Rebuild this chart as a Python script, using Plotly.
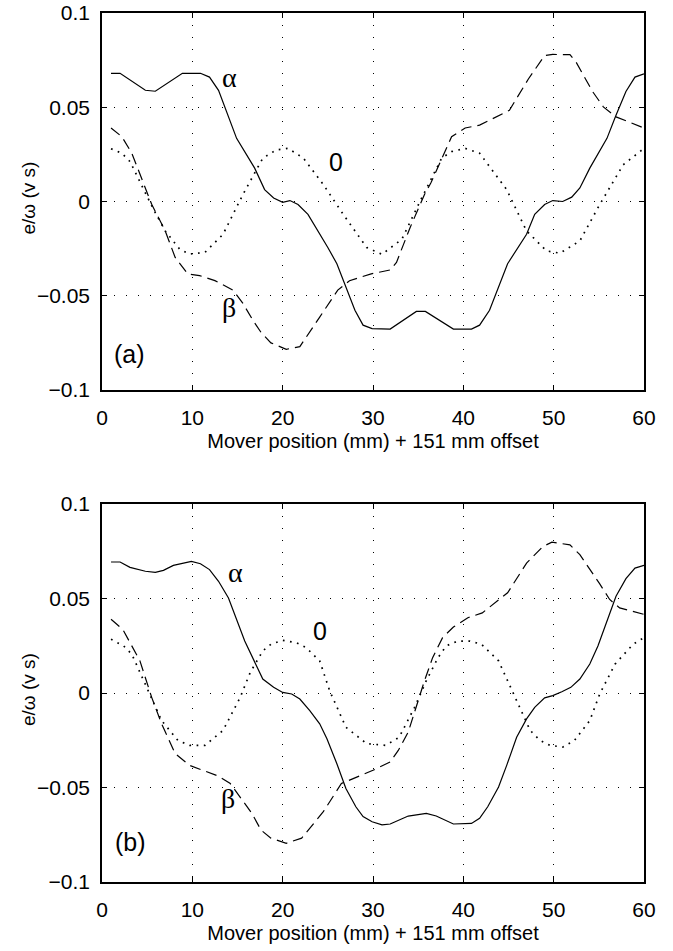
import plotly.graph_objects as go

# ---------------- data: panel (a) ----------------
a_alpha_x = [1, 2, 4.8, 5.9, 8.9, 10.9, 11.9, 12.9, 14.9, 16.9, 18, 19, 20, 20.8, 21.7, 22.8, 25, 26, 28, 28.9,
             29.9, 31.9, 34.8, 35.8, 38.9, 40.9, 41.8, 42.9, 44.9, 47, 47.9, 49, 49.9, 51, 52, 52.9, 54, 55.9,
             56.9, 58, 59, 60]
a_alpha_y = [0.068, 0.068, 0.059, 0.0585, 0.068, 0.068, 0.066, 0.059, 0.0335, 0.0177, 0.0063, 0.0019, -0.0004,
             0.0005, -0.0016, -0.0068, -0.0244, -0.033, -0.0577, -0.0656, -0.0674, -0.0677, -0.0583, -0.0583,
             -0.0677, -0.0677, -0.0656, -0.0577, -0.033, -0.0174, -0.0068, -0.0016, 0.0005, 0.0, 0.0023, 0.0072,
             0.0177, 0.0335, 0.0458, 0.0584, 0.066, 0.0677]

a_beta_x = [1, 2.2, 3.3, 5.5, 7, 8.1, 9.5, 10.8, 12.5, 14.5, 15.6, 16.7, 17.6, 18.7, 20.4, 21.9, 24.1, 26.1, 27.4,
            29.8, 31.9, 32.6, 34.1, 35.7, 36.4, 38.7, 40.2, 41.8, 45.1, 47.2, 49, 49.9, 51.8, 52.5, 54.3, 55.5,
            56.9, 60]
a_beta_y = [0.039, 0.0344, 0.0256, -0.0015, -0.0156, -0.0297, -0.0384, -0.0393, -0.042, -0.047, -0.054, -0.063,
            -0.0694, -0.075, -0.0784, -0.077, -0.0613, -0.047, -0.042, -0.0384, -0.0363, -0.0323, -0.0139, 0.0037,
            0.0098, 0.0344, 0.039, 0.0405, 0.0484, 0.065, 0.0774, 0.078, 0.0779, 0.0738, 0.0584, 0.0502, 0.0449,
            0.039]

a_zero_x = [1, 2.2, 3.1, 5.7, 7, 8.6, 9.7, 11.4, 13.4, 15.6, 17.8, 19.3, 20.6, 22.3, 24.5, 26.7, 29.3, 31.0, 33.2,
            35.2, 37.6, 38.7, 40.2, 41.8, 44.8, 47, 49.2, 50.7, 52.9, 55.1, 57.7, 60]
a_zero_y = [0.028, 0.0256, 0.0212, -0.0042, -0.0156, -0.0253, -0.0279, -0.027, -0.0174, 0.0037, 0.023, 0.0274,
            0.0282, 0.023, 0.009, -0.0068, -0.0244, -0.028, -0.02, 0.0, 0.023, 0.0265, 0.0282, 0.0256, 0.0063,
            -0.0156, -0.0262, -0.0274, -0.0209, -0.0016, 0.0195, 0.0282]

# ---------------- data: panel (b) ----------------
b_alpha_x = [1, 2, 3.1, 4.8, 5.9, 6.8, 7.9, 8.9, 9.9, 10.9, 11.9, 12.9, 14, 15.8, 16.9, 17.8, 19, 20, 21, 21.9, 23,
             24.1, 24.9, 26, 27, 28.1, 28.9, 29.9, 31.0, 31.9, 33.9, 35.9, 37, 38.9, 40.9, 41.8, 42.7, 43.9, 44.8,
             45.9, 47, 47.9, 49, 49.9, 50.9, 51.9, 52.9, 54, 54.9, 55.9, 56.9, 58, 59, 60]
b_alpha_y = [0.0693, 0.0693, 0.0665, 0.0644, 0.0638, 0.0649, 0.0675, 0.0684, 0.0696, 0.0684, 0.0653, 0.0591, 0.0503,
             0.0275, 0.0161, 0.0074, 0.003, 0.0003, -0.0005, -0.0032, -0.0093, -0.0163, -0.0242, -0.0374, -0.0505,
             -0.0602, -0.0654, -0.0681, -0.0698, -0.0693, -0.0651, -0.0637, -0.0651, -0.0693, -0.069, -0.0663,
             -0.0602, -0.0497, -0.0383, -0.0234, -0.0137, -0.0076, -0.0026, -0.0014, 0.0007, 0.003, 0.0074, 0.0153,
             0.0249, 0.038, 0.0512, 0.0605, 0.0661, 0.0675]

b_beta_x = [1, 2.3, 4.2, 5.5, 6.6, 8.1, 9.7, 11.2, 12.9, 14.2, 16.6, 17.6, 18.7, 20.4, 22.1, 24.5, 26.5, 30, 31.9,
            32.8, 33.9, 35.7, 36.6, 37.7, 38.9, 40.5, 42.1, 44.9, 47, 48.8, 49.8, 51.8, 52.9, 55.1, 56.2, 57.3, 60]
b_beta_y = [0.039, 0.0337, 0.017, -0.0023, -0.0163, -0.0321, -0.0383, -0.0409, -0.044, -0.0479, -0.0637, -0.0725,
            -0.0768, -0.0795, -0.0768, -0.0628, -0.0479, -0.0409, -0.0365, -0.0304, -0.0207, 0.0065, 0.0187, 0.0293,
            0.0349, 0.0398, 0.0424, 0.053, 0.0687, 0.0775, 0.0798, 0.0784, 0.0732, 0.0577, 0.0495, 0.045, 0.0416]

b_zero_x = [1, 2.4, 3.3, 5.5, 6.6, 8.4, 9.7, 11.4, 13.4, 15.3, 16.4, 17.8, 18.7, 20, 21.5, 22.6, 24.1, 25.2, 27,
            29.3, 31.4, 32.9, 34.6, 35.9, 37.2, 38.1, 39.4, 40.7, 42, 43.9, 45.2, 46.1, 47.4, 48.5, 49.6, 51, 52.3,
            54, 55.1, 56.8, 58.8, 60]
b_zero_y = [0.0284, 0.0249, 0.0205, -0.0032, -0.0146, -0.0251, -0.0277, -0.0277, -0.0198, -0.0023, 0.0108, 0.0223,
            0.0258, 0.0279, 0.0266, 0.024, 0.017, 0.0012, -0.0181, -0.0268, -0.0277, -0.0234, -0.0076, 0.0065,
            0.0187, 0.0249, 0.0275, 0.0275, 0.0258, 0.017, 0.003, -0.0058, -0.0198, -0.0251, -0.0277, -0.0286,
            -0.0251, -0.0146, -0.0005, 0.0153, 0.0258, 0.0293]

x_ticks = [0, 10, 20, 30, 40, 50, 60]
y_ticks = [-0.1, -0.05, 0, 0.05, 0.1]
y_tick_text = ["\u22120.1", "\u22120.05", "0", "0.05", "0.1"]

x_title = "Mover position (mm) + 151 mm offset"
y_title = "e/\u03c9 (v s)"

# label text + positions (data coords) per panel
labels_a = [("\u03b1", 14.1, 0.066), ("0", 25.9, 0.021), ("\u03b2", 14.1, -0.056), ("(a)", 3.0, -0.081)]
labels_b = [("\u03b1", 14.8, 0.0635), ("0", 24.1, 0.033), ("\u03b2", 14.0, -0.0558), ("(b)", 3.1, -0.0786)]

W, H = 673, 951
FONT = "Liberation Sans, Arial, Helvetica, sans-serif"

fig = go.Figure()

panels = [
    (a_alpha_x, a_alpha_y, a_beta_x, a_beta_y, a_zero_x, a_zero_y, "x", "y"),
    (b_alpha_x, b_alpha_y, b_beta_x, b_beta_y, b_zero_x, b_zero_y, "x2", "y2"),
]
for ax, ay, bx, by, zx, zy, xr, yr in panels:
    fig.add_trace(go.Scatter(x=ax, y=ay, mode="lines", xaxis=xr, yaxis=yr,
                             line=dict(color="black", width=1.2), showlegend=False))
    fig.add_trace(go.Scatter(x=bx, y=by, mode="lines", xaxis=xr, yaxis=yr,
                             line=dict(color="black", width=1.2, dash="11px,6px"), showlegend=False))
    fig.add_trace(go.Scatter(x=zx, y=zy, mode="lines", xaxis=xr, yaxis=yr,
                             line=dict(color="black", width=1.7, dash="1.7px,5.5px"), showlegend=False))

xdom = [102 / W, 644 / W]
ydom_a = [1 - 390 / H, 1 - 13 / H]
ydom_b = [1 - 882 / H, 1 - 504 / H]

common_x = dict(range=[0, 60], tickvals=x_ticks, ticks="inside", ticklen=5, tickwidth=1, tickcolor="black",
                showline=True, linecolor="black", linewidth=1.5, mirror="ticks", showgrid=True,
                gridcolor="black", gridwidth=1, griddash="1px,11px", zeroline=False, automargin=False,
                ticklabeloverflow="allow",
                tickfont=dict(family=FONT, size=21, color="black"), ticklabelstandoff=8,
                title=dict(text=x_title, font=dict(family=FONT, size=20, color="black"), standoff=6),
                domain=xdom, fixedrange=True)
common_y = dict(range=[-0.1, 0.1], tickvals=y_ticks, ticktext=y_tick_text, ticks="inside", ticklen=5,
                tickwidth=1, tickcolor="black", showline=True, linecolor="black", linewidth=1.5, mirror="ticks",
                showgrid=True, gridcolor="black", gridwidth=1, griddash="1px,11px", zeroline=False,
                automargin=False, ticklabeloverflow="allow",
                tickfont=dict(family=FONT, size=21, color="black"), ticklabelstandoff=6,
                fixedrange=True)

fig.update_layout(
    width=W, height=H,
    margin=dict(l=0, r=0, t=0, b=0, autoexpand=False),
    paper_bgcolor="white", plot_bgcolor="white",
    xaxis=dict(common_x, anchor="y"),
    yaxis=dict(common_y, domain=ydom_a, anchor="x"),
    xaxis2=dict(common_x, anchor="y2"),
    yaxis2=dict(common_y, domain=ydom_b, anchor="x2"),
)

# y-axis titles (rotated), placed in paper coordinates beside each panel
for yc in [(ydom_a[0] + ydom_a[1]) / 2 + 3 / H, (ydom_b[0] + ydom_b[1]) / 2 + 3 / H]:
    fig.add_annotation(x=28 / W, y=yc, xref="paper", yref="paper", text=y_title, showarrow=False,
                       textangle=-90, font=dict(family=FONT, size=19, color="black"),
                       xanchor="center", yanchor="middle")

for labels, xr, yr in [(labels_a, "x", "y"), (labels_b, "x2", "y2")]:
    for txt, lx, ly in labels:
        fam = "Liberation Serif, Times New Roman, serif" if txt in ("\u03b1", "\u03b2") else FONT
        size = 28 if txt in ("\u03b1", "\u03b2") else 25
        fig.add_annotation(x=lx, y=ly, xref=xr, yref=yr, text=txt, showarrow=False,
                           font=dict(family=fam, size=size, color="black"),
                           xanchor="center", yanchor="middle")

fig.write_html("out.html")
